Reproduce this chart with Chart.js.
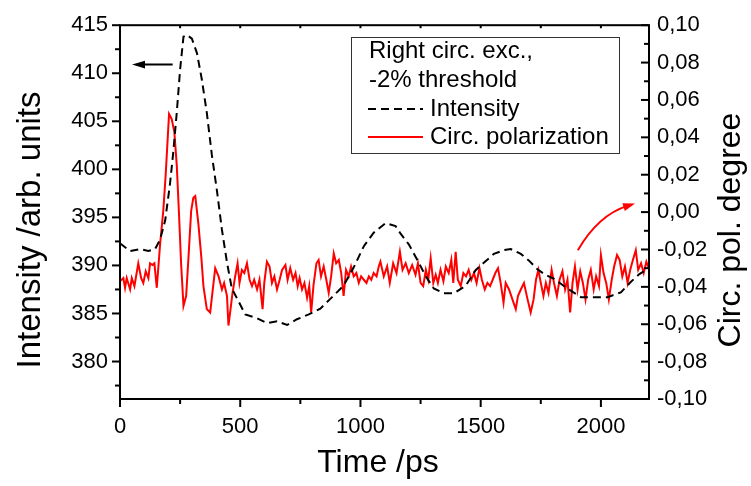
<!DOCTYPE html>
<html><head><meta charset="utf-8">
<script src="https://cdn.jsdelivr.net/npm/chart.js@4/dist/chart.umd.min.js"></script>
<style>html,body{margin:0;padding:0;background:#fff;}#wrap{width:751px;height:486px;}</style>
</head><body><div id="wrap"><canvas id="c" width="751" height="486"></canvas></div>
<script>
// ---- data ----
const intensityTime = [0,42,83,118,146,167,188,208,222,236,250,264,278,299,320,340,361,382,403,424,445,465,486,521,570,611,653,695,736,785,833,882,930,972,1014,1055,1104,1146,1167,1201,1236,1271,1305,1347,1389,1438,1479,1514,1555,1597,1625,1667,1701,1736,1764,1805,1861,1917,1972,2028,2083,2125,2160,2200];
const intensityValues = [392.3,391.5,391.7,391.5,391.7,392.7,394.7,398.5,401.9,405.9,410.4,413.8,414.0,413.6,412.1,409.4,405.9,401.5,397.8,393.7,390.3,387.6,386.6,384.9,384.5,384.0,384.2,383.8,384.4,384.9,385.5,386.7,387.9,389.8,392.0,393.4,394.4,394.1,393.3,392.2,390.6,388.9,387.6,387.1,387.1,387.9,389.5,390.3,391.2,391.6,391.7,391.2,390.5,389.6,389.1,388.6,387.6,386.7,386.7,386.7,387.2,388.3,389.1,389.7];
const polTime = [0,14,21,28,42,49,60,76,88,97,107,118,125,135,143,153,167,180,190,204,215,226,236,246,254,264,275,285,296,305,313,326,338,347,361,375,389,396,410,424,433,445,451,458,468,479,489,497,507,517,528,539,549,558,570,580,593,600,611,622,632,642,653,664,674,688,697,708,720,730,739,747,757,767,778,787,795,805,817,826,836,847,858,868,878,889,899,910,920,930,940,951,961,972,983,993,1003,1014,1025,1035,1045,1055,1067,1076,1083,1097,1111,1122,1136,1150,1164,1175,1188,1201,1215,1229,1239,1250,1261,1272,1282,1292,1303,1313,1322,1333,1345,1355,1367,1378,1386,1396,1405,1417,1428,1439,1450,1461,1472,1483,1495,1505,1517,1528,1539,1550,1561,1572,1583,1595,1604,1618,1632,1646,1655,1667,1680,1695,1708,1720,1730,1740,1750,1761,1771,1782,1795,1805,1817,1828,1840,1851,1861,1872,1882,1892,1903,1914,1925,1936,1947,1958,1970,1980,1992,2000,2011,2022,2033,2045,2055,2067,2078,2089,2100,2111,2122,2133,2145,2155,2167,2178,2189,2199];
const polValues = [-0.0370,-0.0353,-0.0405,-0.0353,-0.0414,-0.0353,-0.0396,-0.0274,-0.0353,-0.0379,-0.0317,-0.0353,-0.0274,-0.0283,-0.0274,-0.0405,-0.0168,0.0007,0.0200,0.0525,0.0498,0.0428,0.0253,-0.0028,-0.0274,-0.0502,-0.0449,-0.0238,0.0007,0.0077,0.0086,-0.0063,-0.0238,-0.0396,-0.0519,-0.0537,-0.0379,-0.0300,-0.0344,-0.0414,-0.0379,-0.0449,-0.0607,-0.0537,-0.0432,-0.0344,-0.0274,-0.0379,-0.0309,-0.0326,-0.0274,-0.0362,-0.0396,-0.0362,-0.0414,-0.0362,-0.0519,-0.0379,-0.0265,-0.0291,-0.0379,-0.0344,-0.0414,-0.0362,-0.0309,-0.0283,-0.0362,-0.0300,-0.0362,-0.0326,-0.0396,-0.0353,-0.0414,-0.0379,-0.0458,-0.0396,-0.0537,-0.0388,-0.0274,-0.0256,-0.0344,-0.0291,-0.0362,-0.0432,-0.0344,-0.0221,-0.0274,-0.0256,-0.0326,-0.0449,-0.0309,-0.0344,-0.0291,-0.0344,-0.0326,-0.0379,-0.0344,-0.0362,-0.0379,-0.0344,-0.0362,-0.0326,-0.0344,-0.0291,-0.0265,-0.0344,-0.0291,-0.0379,-0.0274,-0.0326,-0.0212,-0.0309,-0.0274,-0.0326,-0.0283,-0.0335,-0.0274,-0.0379,-0.0396,-0.0309,-0.0362,-0.0247,-0.0379,-0.0335,-0.0379,-0.0309,-0.0370,-0.0291,-0.0326,-0.0256,-0.0379,-0.0212,-0.0362,-0.0396,-0.0326,-0.0344,-0.0309,-0.0362,-0.0326,-0.0379,-0.0300,-0.0362,-0.0414,-0.0379,-0.0396,-0.0362,-0.0326,-0.0300,-0.0379,-0.0484,-0.0379,-0.0414,-0.0467,-0.0519,-0.0449,-0.0414,-0.0379,-0.0467,-0.0537,-0.0467,-0.0362,-0.0309,-0.0379,-0.0449,-0.0379,-0.0432,-0.0309,-0.0379,-0.0449,-0.0362,-0.0317,-0.0414,-0.0362,-0.0537,-0.0379,-0.0291,-0.0414,-0.0317,-0.0379,-0.0467,-0.0362,-0.0309,-0.0414,-0.0344,-0.0396,-0.0230,-0.0326,-0.0379,-0.0467,-0.0362,-0.0291,-0.0230,-0.0256,-0.0344,-0.0291,-0.0379,-0.0309,-0.0256,-0.0204,-0.0309,-0.0274,-0.0326,-0.0265,-0.0300];
const xTicks = [0,500,1000,1500,2000];
const xMinorTicks = [250,750,1250,1750];
const leftTicks = [380,385,390,395,400,405,410,415];
const leftMinorTicks = [377.5,382.5,387.5,392.5,397.5,402.5,407.5,412.5];
const rightTicks = [-0.10,-0.08,-0.06,-0.04,-0.02,0,0.02,0.04,0.06,0.08,0.10];
const rightMinorTicks = [-0.09,-0.07,-0.05,-0.03,-0.01,0.01,0.03,0.05,0.07,0.09];
const legendTitle = ['Right circ. exc.,','-2% threshold'];
const seriesNames = ['Intensity','Circ. polarization'];
const xTitle = 'Time /ps', leftTitle = 'Intensity /arb. units', rightTitle = 'Circ. pol. degree';
// annotation arrows (data coordinates)
const leftArrow = {from:[219,410.9], to:[50,410.9]};
const rightArrow = {from:[1904,-0.0204], ctrl:[1990,-0.0015], to:[2142,0.0046]};

const FONT = '"Liberation Sans", Arial, sans-serif';
Chart.defaults.font.family = FONT;
Chart.defaults.color = '#000';

function pts(xs, ys){ return xs.map((x,i)=>({x:x, y:ys[i]})); }

function arrowHead(ctx, x, y, ang, len, w){
  ctx.beginPath();
  ctx.moveTo(x, y);
  ctx.lineTo(x - len*Math.cos(ang) + w*Math.sin(ang), y - len*Math.sin(ang) - w*Math.cos(ang));
  ctx.lineTo(x - len*Math.cos(ang) - w*Math.sin(ang), y - len*Math.sin(ang) + w*Math.cos(ang));
  ctx.closePath();
  ctx.fill();
}

const decor = {
  id:'decor',
  afterDatasetsDraw(chart){
    const {ctx, chartArea:a, scales} = chart;
    const sx = scales.x, yl = scales.yL, yr = scales.yR;
    ctx.save();
    ctx.strokeStyle = '#000'; ctx.fillStyle = '#000'; ctx.lineWidth = 2; ctx.setLineDash([]);
    ctx.strokeRect(a.left, a.top, a.right-a.left, a.bottom-a.top);
    const line=(x1,y1,x2,y2)=>{ctx.beginPath();ctx.moveTo(x1,y1);ctx.lineTo(x2,y2);ctx.stroke();};
    xTicks.forEach(v=>{const p=sx.getPixelForValue(v); line(p,a.bottom,p,a.bottom+8); line(p,a.top,p,a.top+3);});
    xMinorTicks.forEach(v=>{const p=sx.getPixelForValue(v); line(p,a.bottom,p,a.bottom+5); line(p,a.top,p,a.top+3);});
    leftTicks.forEach(v=>{const p=yl.getPixelForValue(v); line(a.left-8,p,a.left,p);});
    leftMinorTicks.forEach(v=>{const p=yl.getPixelForValue(v); line(a.left-5,p,a.left,p);});
    rightTicks.forEach(v=>{const p=yr.getPixelForValue(v); line(a.right-8,p,a.right,p);});
    rightMinorTicks.forEach(v=>{const p=yr.getPixelForValue(v); line(a.right-5,p,a.right,p);});
    // black arrow -> left axis
    const x1=sx.getPixelForValue(leftArrow.from[0]), y1=yl.getPixelForValue(leftArrow.from[1]);
    const x2=sx.getPixelForValue(leftArrow.to[0]), y2=yl.getPixelForValue(leftArrow.to[1]);
    line(x1,y1,x2+8,y2);
    arrowHead(ctx,x2,y2,Math.atan2(y2-y1,x2-x1),13,3.8);
    // red curved arrow -> right axis
    const r0=[sx.getPixelForValue(rightArrow.from[0]), yr.getPixelForValue(rightArrow.from[1])];
    const rc=[sx.getPixelForValue(rightArrow.ctrl[0]), yr.getPixelForValue(rightArrow.ctrl[1])];
    const r1=[sx.getPixelForValue(rightArrow.to[0]), yr.getPixelForValue(rightArrow.to[1])];
    const ang=Math.atan2(r1[1]-rc[1], r1[0]-rc[0]);
    ctx.strokeStyle='#ff0000'; ctx.fillStyle='#ff0000';
    ctx.beginPath(); ctx.moveTo(r0[0],r0[1]);
    ctx.quadraticCurveTo(rc[0],rc[1], r1[0]-8*Math.cos(ang), r1[1]-8*Math.sin(ang)); ctx.stroke();
    arrowHead(ctx,r1[0],r1[1],ang,12,4);
    ctx.restore();
  },
  afterDraw(chart){
    const {ctx} = chart;
    const ds = chart.data.datasets;
    ctx.save();
    // legend
    ctx.strokeStyle='#333'; ctx.lineWidth=1;
    ctx.strokeRect(351.5,37.5,268,116);
    ctx.fillStyle='#000'; ctx.font='24px '+FONT; ctx.textBaseline='middle'; ctx.textAlign='left';
    ctx.fillText(legendTitle[0],369,51);
    ctx.fillText(legendTitle[1],369,80);
    const rows=[109,137];
    ds.forEach((d,i)=>{
      ctx.strokeStyle=d.borderColor; ctx.lineWidth=d.borderWidth; ctx.setLineDash(d.borderDash||[]);
      ctx.beginPath(); ctx.moveTo(368,rows[i]); ctx.lineTo(423,rows[i]); ctx.stroke();
      ctx.setLineDash([]);
      ctx.fillText(seriesNames[i],430,rows[i]);
    });
    // axis titles
    ctx.textAlign='center'; ctx.textBaseline='middle';
    ctx.font='32px '+FONT;
    ctx.fillText(xTitle,378,463);
    ctx.save(); ctx.translate(731,230); ctx.rotate(-Math.PI/2); ctx.fillText(rightTitle,0,0); ctx.restore();
    ctx.font='33px '+FONT;
    ctx.save(); ctx.translate(31,230); ctx.rotate(-Math.PI/2); ctx.fillText(leftTitle,0,0); ctx.restore();
    ctx.restore();
  }
};

new Chart(document.getElementById('c'), {
  type:'line',
  data:{datasets:[
    {label:seriesNames[0], data:pts(intensityTime,intensityValues), yAxisID:'yL', borderColor:'#000', borderWidth:2, borderDash:[8,5], pointRadius:0, tension:0, fill:false},
    {label:seriesNames[1], data:pts(polTime,polValues), yAxisID:'yR', borderColor:'#ff0000', borderWidth:2, pointRadius:0, tension:0, fill:false}
  ]},
  options:{
    responsive:false, animation:false, devicePixelRatio:1,
    layout:{padding:{top:18,left:0,right:0,bottom:0}},
    plugins:{legend:{display:false}, tooltip:{enabled:false}},
    scales:{
      x:{type:'linear', position:'bottom', min:0, max:2200,
         afterBuildTicks:s=>{s.ticks=xTicks.map(v=>({value:v}));},
         afterFit:s=>{s.height=87;},
         grid:{display:false, drawTicks:false}, border:{display:false},
         ticks:{font:{size:22}, color:'#000', padding:15, maxRotation:0, autoSkip:false, callback:v=>String(v)}},
      yL:{type:'linear', position:'left', min:376.1, max:415,
         afterBuildTicks:s=>{s.ticks=leftTicks.map(v=>({value:v}));},
         afterFit:s=>{s.width=120;},
         grid:{display:false, drawTicks:false}, border:{display:false},
         ticks:{font:{size:22}, color:'#000', padding:12, autoSkip:false, callback:v=>String(v)}},
      yR:{type:'linear', position:'right', min:-0.1, max:0.1,
         afterBuildTicks:s=>{s.ticks=rightTicks.map(v=>({value:v}));},
         afterFit:s=>{s.width=102;},
         grid:{display:false, drawTicks:false}, border:{display:false},
         ticks:{font:{size:22}, color:'#000', padding:8, autoSkip:false,
           callback:v=>v.toFixed(2).replace('.',',').replace('-0,00','0,00')}}
    }
  },
  plugins:[decor]
});
</script></body></html>
